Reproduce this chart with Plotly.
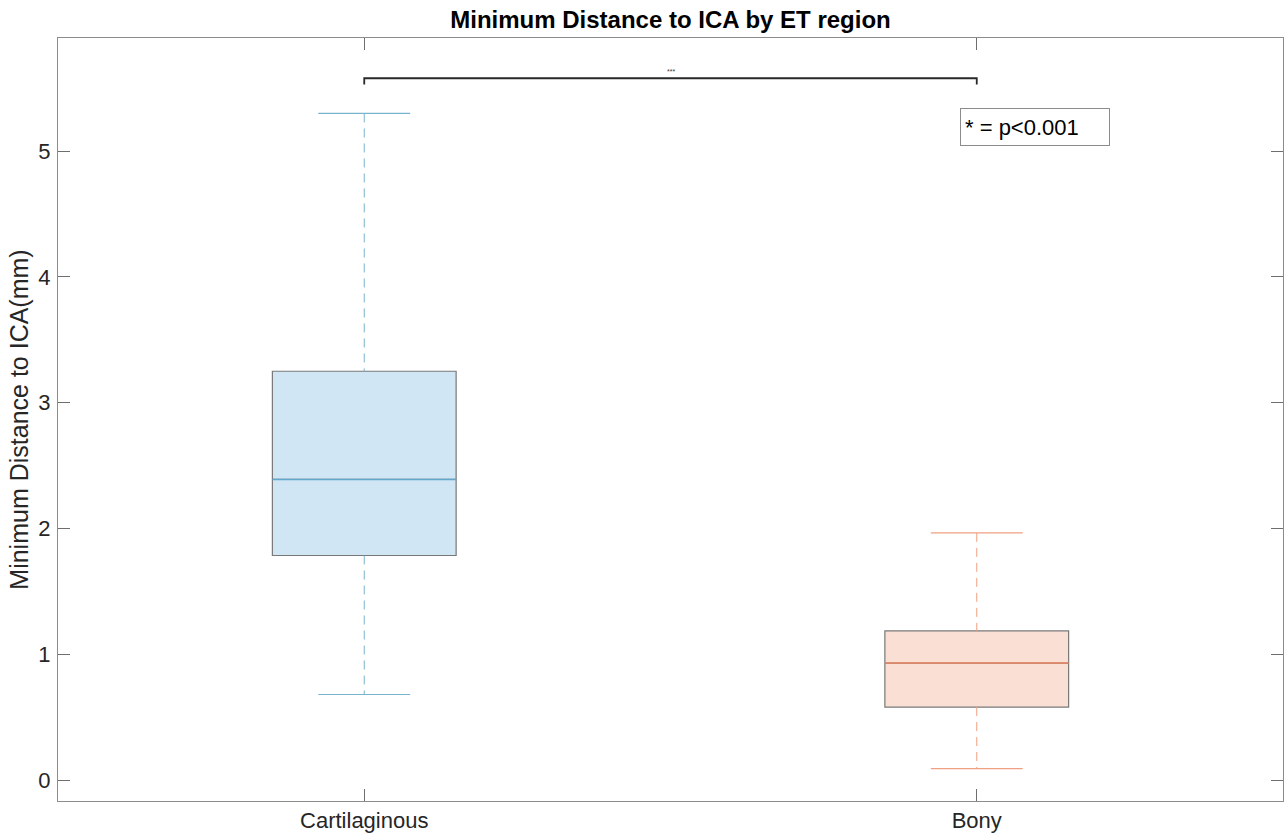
import plotly.graph_objects as go

# ---- data ----
categories = ["Cartilaginous", "Bony"]
lower_whisker = [0.68, 0.09]
q1_values = [1.785, 0.58]
medians = [2.39, 0.93]
q3_values = [3.25, 1.185]
upper_whisker = [5.30, 1.965]
sig_pair = [1, 2]
sig_level = 5.58
sig_drop = 0.05
sig_label = "***"
legend_note = "* = p<0.001"
y_ticks = [0, 1, 2, 3, 4, 5]

# ---- style ----
fills = ["rgb(208,230,244)", "rgb(250,224,212)"]
accent = ["rgb(98,168,204)", "rgb(236,134,98)"]
whisk = ["rgb(120,180,205)", "rgb(240,160,130)"]
edge = "rgb(120,120,120)"
box_w = 0.3
cap_half = 0.075
positions = [i + 1 for i in range(len(categories))]

fig = go.Figure()
font_family = "Liberation Sans, Arial, sans-serif"

for i, pos in enumerate(positions):
    # whiskers (dashed)
    fig.add_trace(go.Scatter(
        x=[pos, pos], y=[upper_whisker[i], q3_values[i]], mode="lines",
        line=dict(color=whisk[i], width=1, dash="9px,6px"), showlegend=False, hoverinfo="skip"))
    fig.add_trace(go.Scatter(
        x=[pos, pos], y=[q1_values[i], lower_whisker[i]], mode="lines",
        line=dict(color=whisk[i], width=1, dash="9px,6px"), showlegend=False, hoverinfo="skip"))
    # caps
    for v in (upper_whisker[i], lower_whisker[i]):
        fig.add_trace(go.Scatter(
            x=[pos - cap_half, pos + cap_half], y=[v, v], mode="lines",
            line=dict(color=whisk[i], width=1.2), showlegend=False, hoverinfo="skip"))
    # box
    fig.add_trace(go.Box(
        x=[pos], q1=[q1_values[i]], median=[medians[i]], q3=[q3_values[i]],
        lowerfence=[q1_values[i]], upperfence=[q3_values[i]],
        width=box_w, whiskerwidth=0, fillcolor=fills[i],
        line=dict(color=edge, width=1.2), showlegend=False, name=categories[i],
        hoverinfo="skip"))
    # median
    fig.add_trace(go.Scatter(
        x=[pos - box_w / 2, pos + box_w / 2], y=[medians[i], medians[i]], mode="lines",
        line=dict(color=accent[i], width=1.4), showlegend=False, hoverinfo="skip"))

# significance bracket
fig.add_trace(go.Scatter(
    x=[sig_pair[0], sig_pair[0], sig_pair[1], sig_pair[1]],
    y=[sig_level - sig_drop, sig_level, sig_level, sig_level - sig_drop],
    mode="lines", line=dict(color="rgb(40,40,40)", width=1.8),
    showlegend=False, hoverinfo="skip"))
fig.add_annotation(
    x=(sig_pair[0] + sig_pair[1]) / 2, y=sig_level, text=sig_label, showarrow=False,
    yanchor="bottom", yshift=1, font=dict(size=7, color="rgb(60,60,60)", family=font_family))

fig.add_annotation(
    xref="paper", yref="paper", x=0.7364, y=0.908, xanchor="left", yanchor="top",
    text=legend_note, showarrow=False, align="left", width=140, height=28,
    bordercolor="rgb(140,140,140)", borderwidth=1, borderpad=4, bgcolor="white",
    font=dict(size=22, color="black", family=font_family))

axis_common = dict(showline=True, linecolor="rgb(140,140,140)", linewidth=1,
                   mirror="ticks", ticks="inside", ticklen=12, tickcolor="rgb(110,110,110)",
                   showgrid=False, zeroline=False,
                   tickfont=dict(size=22, color="rgb(38,38,38)", family=font_family))

fig.update_layout(
    width=1284, height=836,
    margin=dict(l=58, r=1, t=38, b=35),
    plot_bgcolor="white", paper_bgcolor="white",
    title=dict(text="<b>Minimum Distance to ICA by ET region</b>", x=0.5, xref="paper",
               y=0.977, yanchor="middle",
               font=dict(size=24, color="black", family=font_family)),
    xaxis=dict(range=[0.5, 2.5], tickvals=positions, ticktext=categories, **axis_common),
    yaxis=dict(range=[-0.167, 5.9], tickvals=y_ticks, ticklabelstandoff=2,
               title=dict(text="Minimum Distance to ICA(mm)", standoff=2,
                          font=dict(size=25, color="rgb(38,38,38)", family=font_family)),
               **axis_common),
)

fig.write_html("out.html")
